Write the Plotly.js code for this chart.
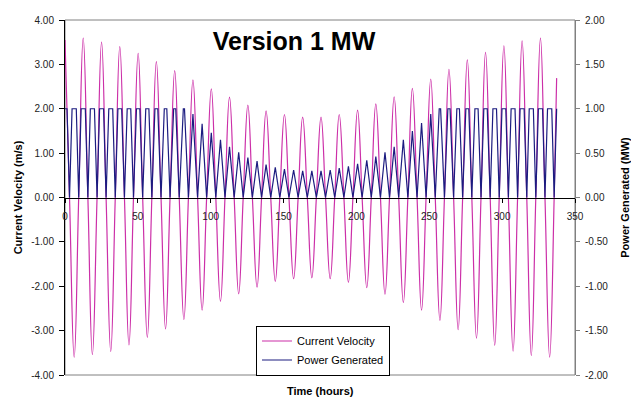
<!DOCTYPE html>
<html>
<head>
<meta charset="utf-8">
<script src="https://cdn.plot.ly/plotly-3.0.1.min.js"></script>
<style>
  html, body { margin: 0; padding: 0; background: #ffffff; }
  #chart { width: 631px; height: 401px; }
</style>
</head>
<body>
<div id="chart"></div>
<script>
// ---- Data ----
// Times (hours) of each velocity peak / trough (alternating, starting with a peak)
const extremaHours = [0, 6.3, 12.5, 18.8, 25.1, 31.4, 37.6, 43.9, 50.2, 56.5,
  62.7, 69.0, 75.3, 81.6, 87.8, 94.1, 100.4, 106.7, 112.9, 119.2,
  125.5, 131.8, 138.0, 144.3, 150.6, 156.9, 163.1, 169.4, 175.7, 182.0,
  188.2, 194.5, 200.8, 207.1, 213.3, 219.6, 225.9, 232.2, 238.4, 244.7,
  251.0, 257.3, 263.5, 269.8, 276.1, 282.4, 288.6, 294.9, 301.2, 307.5,
  313.7, 320.0, 326.3, 332.6];
// Current velocity (m/s) at each peak / trough
const velocityExtrema = [3.55, -3.60, 3.59, -3.54, 3.50, -3.47, 3.40, -3.32, 3.25, -3.15,
  3.06, -2.96, 2.86, -2.75, 2.65, -2.54, 2.45, -2.34, 2.26, -2.17,
  2.08, -2.02, 1.95, -1.89, 1.87, -1.83, 1.81, -1.81, 1.81, -1.83,
  1.87, -1.91, 1.97, -2.03, 2.11, -2.18, 2.27, -2.37, 2.46, -2.54,
  2.67, -2.77, 2.89, -2.98, 3.10, -3.17, 3.27, -3.33, 3.42, -3.46,
  3.53, -3.56, 3.59, -3.60];
// Times (hours) where the current changes direction (velocity 0, power 0)
const zeroHours = [3.1, 9.4, 15.7, 22.0, 28.2, 34.5, 40.8, 47.0, 53.3, 59.6,
  65.9, 72.1, 78.4, 84.7, 91.0, 97.2, 103.5, 109.8, 116.1, 122.3,
  128.6, 134.9, 141.2, 147.4, 153.7, 160.0, 166.3, 172.5, 178.8, 185.1,
  191.4, 197.6, 203.9, 210.2, 216.5, 222.7, 229.0, 235.3, 241.6, 247.8,
  254.1, 260.4, 266.7, 272.9, 279.2, 285.5, 291.8, 298.0, 304.3, 310.6,
  316.9, 323.1, 329.4, 335.7];
// Power generated (MW) at each peak / trough of the current
const powerExtrema = [1, 1, 1, 1, 1, 1, 1, 1, 1, 1,
  1, 1, 1, 1, 0.94, 0.83, 0.73, 0.65, 0.57, 0.51,
  0.45, 0.41, 0.37, 0.34, 0.32, 0.31, 0.30, 0.30, 0.30, 0.31,
  0.33, 0.35, 0.38, 0.42, 0.46, 0.51, 0.57, 0.65, 0.75, 0.84,
  0.94, 1, 1, 1, 1, 1, 1, 1, 1, 1,
  1, 1, 1, 1];
// Half-duration (hours) of the 1 MW rated-power plateau around each peak / trough
const plateauHalfHours = [1.40, 1.45, 1.44, 1.41, 1.37, 1.34, 1.29, 1.22, 1.16, 1.07,
  0.98, 0.86, 0.72, 0.40, 0, 0, 0, 0, 0, 0,
  0, 0, 0, 0, 0, 0, 0, 0, 0, 0,
  0, 0, 0, 0, 0, 0, 0, 0, 0, 0,
  0, 0.48, 0.75, 0.88, 1.01, 1.09, 1.18, 1.23, 1.31, 1.34,
  1.39, 1.42, 1.44, 1.45];
const endHour = 337.4;
const endVelocity = 2.69;
const endPower = 1.0;

const leftTickVals = [-4, -3, -2, -1, 0, 1, 2, 3, 4];
const leftTickText = ['-4.00', '-3.00', '-2.00', '-1.00', '0.00', '1.00', '2.00', '3.00', '4.00'];
const rightTickVals = [-2, -1.5, -1, -0.5, 0, 0.5, 1, 1.5, 2];
const rightTickText = ['-2.00', '-1.50', '-1.00', '-0.50', '0.00', '0.50', '1.00', '1.50', '2.00'];
const timeTicks = [0, 50, 100, 150, 200, 250, 300, 350];

// ---- Build the series point lists ----
const velX = [], velY = [];
for (let i = 0; i < extremaHours.length; i++) {
  velX.push(extremaHours[i]); velY.push(velocityExtrema[i]);
  velX.push(zeroHours[i]); velY.push(0);
}
velX.push(endHour); velY.push(endVelocity);

const powX = [], powY = [];
for (let i = 0; i < extremaHours.length; i++) {
  const w = plateauHalfHours[i];
  if (w > 0) {
    powX.push(i === 0 ? extremaHours[i] : extremaHours[i] - w); powY.push(powerExtrema[i]);
    powX.push(extremaHours[i] + w); powY.push(powerExtrema[i]);
  } else {
    powX.push(extremaHours[i]); powY.push(powerExtrema[i]);
  }
  powX.push(zeroHours[i]); powY.push(0);
}
powX.push(endHour); powY.push(endPower);

const FONT = 'Liberation Sans, Arial, sans-serif';

const traces = [
  {
    x: velX, y: velY, name: 'Current Velocity', type: 'scatter', mode: 'lines',
    line: { color: '#cc2fa8', width: 1.2, shape: 'spline', smoothing: 1.3 },
    xaxis: 'x', yaxis: 'y', hoverinfo: 'x+y'
  },
  {
    x: powX, y: powY, name: 'Power Generated', type: 'scatter', mode: 'lines',
    line: { color: '#1c1c80', width: 1.2 },
    xaxis: 'x', yaxis: 'y2', hoverinfo: 'x+y'
  }
];

const layout = {
  width: 631, height: 401,
  margin: { l: 65, r: 56, t: 20, b: 26 },
  paper_bgcolor: '#ffffff', plot_bgcolor: '#ffffff',
  font: { family: FONT, size: 10, color: '#222' },
  showlegend: true,
  title: {
    text: '<b>Version 1 MW</b>',
    font: { family: FONT, size: 25, color: '#000' },
    xref: 'paper', yref: 'container',
    x: (294 - 65) / 510, y: 1 - 41 / 401,
    xanchor: 'center', yanchor: 'middle'
  },
  xaxis: {
    range: [0, 350], tickvals: timeTicks, ticktext: timeTicks.map(String),
    anchor: 'free', position: 0.5,
    showgrid: false, zeroline: false,
    showline: true, linecolor: '#000', linewidth: 1,
    ticks: 'outside', ticklen: 4, tickcolor: '#000',
    ticklabelstandoff: 5,
    tickfont: { family: FONT, size: 10, color: '#222' },
    fixedrange: true
  },
  yaxis: {
    range: [-4, 4], tickvals: leftTickVals, ticktext: leftTickText,
    showgrid: false, zeroline: false,
    showline: true, linecolor: '#000', linewidth: 1,
    ticks: 'outside', ticklen: 5, tickcolor: '#000',
    ticklabelstandoff: 3,
    tickfont: { family: FONT, size: 10, color: '#222' },
    title: { text: '<b>Current Velocity (m/s)</b>', font: { family: FONT, size: 11, color: '#000' }, standoff: 6 },
    fixedrange: true
  },
  yaxis2: {
    range: [-2, 2], tickvals: rightTickVals, ticktext: rightTickText,
    overlaying: 'y', side: 'right', anchor: 'x',
    showgrid: false, zeroline: false,
    showline: true, linecolor: '#808080', linewidth: 1,
    ticks: 'outside', ticklen: 4, tickcolor: '#808080',
    ticklabelstandoff: 3,
    tickfont: { family: FONT, size: 10, color: '#222' },
    title: { text: '<b>Power Generated (MW)</b>', font: { family: FONT, size: 11, color: '#000' }, standoff: 14 },
    fixedrange: true
  },
  yaxis3: {
    range: [-2, 2], tickvals: rightTickVals,
    overlaying: 'y', side: 'right', anchor: 'x',
    showgrid: false, zeroline: false, showline: false,
    ticks: 'inside', ticklen: 4, tickcolor: '#808080',
    showticklabels: false, fixedrange: true
  },
  legend: {
    x: (323 - 65) / 510, y: (375 - 350.5) / 355,
    xanchor: 'center', yanchor: 'middle',
    bgcolor: '#ffffff', bordercolor: '#000', borderwidth: 1,
    font: { family: FONT, size: 11, color: '#000' },
    tracegroupgap: 0
  },
  shapes: [
    { type: 'rect', xref: 'paper', yref: 'paper', x0: 0, x1: 1, y0: 0, y1: 1,
      line: { color: '#808080', width: 1 }, fillcolor: 'rgba(0,0,0,0)', layer: 'below' }
  ],
  annotations: [
    { text: '<b>Time (hours)</b>', xref: 'paper', yref: 'paper',
      x: 0.5, y: (375 - 391) / 355, xanchor: 'center', yanchor: 'middle',
      showarrow: false, font: { family: FONT, size: 11, color: '#000' } }
  ]
};

Plotly.newPlot('chart', traces, layout, { staticPlot: true, displayModeBar: false });
</script>
</body>
</html>
